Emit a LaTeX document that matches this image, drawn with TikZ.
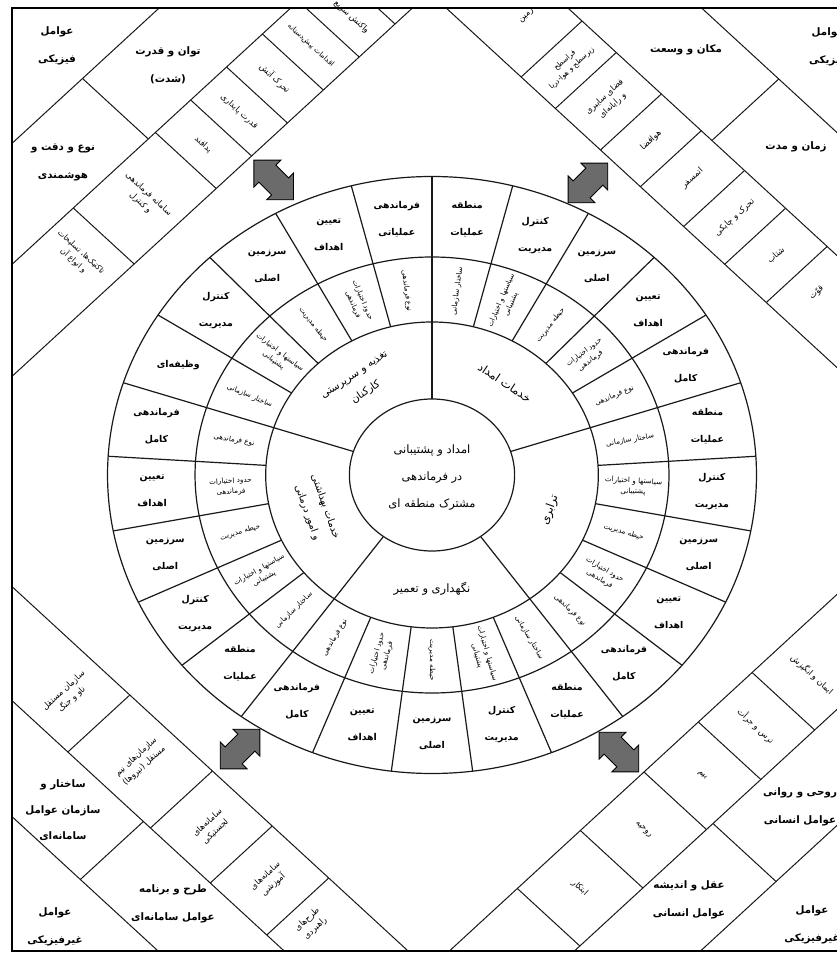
\documentclass[tikz,border=0pt]{standalone}
\usepackage{fontspec}
\TeXXeTstate=1
\newfontfamily\fafont[Script=Arabic]{DejaVu Sans}
\newcommand\fa[1]{{\fafont\beginR #1\endR}}
\newcommand\radrot[1]{\pgfmathsetmacro\rot{atan2(sin(#1),1.087*cos(#1))}\pgfmathsetmacro\rot{\rot>90?\rot-180:(\rot<-90?\rot+180:\rot)}}
\newcommand\tanrot[1]{\pgfmathsetmacro\rot{atan2(cos(#1),-1.087*sin(#1))}\pgfmathsetmacro\rot{\rot>90?\rot-180:(\rot<-90?\rot+180:\rot)}}
\newcommand\dblarrow[3]{%
  \coordinate (#1) at #2;
  \begin{scope}[shift={(#1)},x=1pt,y=1pt,rotate=#3]
    \filldraw[arr] (28,0) -- (9,19) -- (9,12) -- (-9,12) -- (-9,19) -- (-28,0) -- (-9,-19) -- (-9,-12) -- (9,-12) -- (9,-19) -- cycle;
  \end{scope}}
\begin{document}
\begin{tikzpicture}[x=1.087pt,y=1pt,
 ln/.style={draw=black!90,line width=1pt},
 rl/.style={draw=black!90,line width=1.2pt},
 big/.style={font=\fontsize{10.3}{28}\selectfont\bfseries,align=center,inner sep=0pt},
 olab/.style={font=\fontsize{9.4}{27}\selectfont\bfseries,align=center,inner sep=0pt},
 mlab/.style={font=\fontsize{7.2}{10.5}\selectfont,align=center,inner sep=0pt},
 slab/.style={font=\fontsize{8.3}{12}\selectfont,align=center,inner sep=0pt},
 seclab/.style={font=\fontsize{11.5}{24}\selectfont,align=center,inner sep=0pt},
 arr/.style={fill=black!58,draw=black,line width=0.9pt,line join=miter}]

\fill[white] (-397.43,-478) rectangle (371.66,475);
\useasboundingbox (-397.43,-478) rectangle (371.66,475);

% ---------- diagonal bands ----------
\begin{scope}
\clip (-386.4,-476) rectangle (380,467);
\begin{scope}[x={(-0.5435pt,0.5pt)},y={(0.5435pt,0.5pt)}] % top left
 \foreach \d in {485,597,718} \draw[ln] (\d,-\d) -- (\d,\d);
 \foreach \t in {-63,88,153,219,285,351,417} \draw[ln] (485,\t) -- (597,\t);
 \draw[ln] (597,75) -- (718,75);
\end{scope}
\begin{scope}[x={(0.5435pt,0.5pt)},y={(-0.5435pt,0.5pt)}] % top right
 \foreach \d in {480,592,715} \draw[ln] (\d,-\d) -- (\d,\d);
 \foreach \t in {316,253,170,96.6,17,-58.5,-135} \draw[ln] (480,\t) -- (592,\t);
 \draw[ln] (592,77) -- (715,77);
\end{scope}
\begin{scope}[x={(-0.5435pt,-0.5pt)},y={(0.5435pt,-0.5pt)}] % bottom left
 \foreach \d in {498,612,728} \draw[ln] (\d,-\d) -- (\d,\d);
 \foreach \t in {-58,94,204,308} \draw[ln] (498,\t) -- (612,\t);
 \draw[ln] (612,81) -- (728,81);
\end{scope}
\begin{scope}[x={(0.5435pt,-0.5pt)},y={(0.5435pt,0.5pt)}] % bottom right
 \foreach \d in {492,607,723} \draw[ln] (\d,-\d) -- (\d,\d);
 \foreach \t in {97,-2,-102,-219,-335} \draw[ln] (492,\t) -- (607,\t);
 \draw[ln] (607,-90) -- (723,-90);
\end{scope}
\end{scope}
\draw[line width=1.2pt] (-386.4,-476) rectangle (400,467);

% band texts, large cells
\node[big] (tlA) at (-242.9,410) {\fa{توان و قدرت}\\\fa{(شدت)}};
\node[big] (tlB) at (-339.5,313) {\fa{نوع و دقت و}\\\fa{هوشمندی}};
\node[big] (tlC) at (-345,429) {\fa{عوامل}\\\fa{فیزیکی}};
\node[big] (trA) at (233.7,425) {\fa{مکان و وسعت}};
\node[big] (trB) at (334.9,328) {\fa{زمان و مدت}};
\node[big] (trC) at (364.3,428) {\fa{عوامل}\\\fa{فیزیکی}};
\node[big,font=\fontsize{10.3}{26}\selectfont\bfseries] (blA) at (-339.5,-335) {\fa{ساختار و}\\\fa{سازمان عوامل}\\\fa{سامانه‌ای}};
\node[big] (blB) at (-238.3,-429) {\fa{طرح و برنامه}\\\fa{عوامل سامانه‌ای}};
\node[big] (blC) at (-346.8,-452) {\fa{عوامل}\\\fa{غیرفیزیکی}};
\node[big] (brA) at (338.5,-332) {\fa{روحی و روانی}\\\fa{عوامل انسانی}};
\node[big] (brB) at (236.4,-425) {\fa{عقل و اندیشه}\\\fa{عوامل انسانی}};
\node[big] (brC) at (349.6,-450) {\fa{عوامل}\\\fa{غیرفیزیکی}};

% band texts, small cells
\begin{scope}[x={(-0.5435pt,0.5pt)},y={(0.5435pt,0.5pt)}]
 \node[slab,rotate=-42.6,font=\fontsize{7.8}{11.5}\selectfont] (tl1) at (545,-108) {\fa{تاکتیک‌ها، تسلیحات}\\\fa{و انواع آن}};
 \node[slab,rotate=-42.6] (tl2) at (541,12) {\fa{سامانه فرماندهی}\\\fa{و کنترل}};
 \node[slab,rotate=-42.6] (tl3) at (541,120) {\fa{پدافند}};
 \node[slab,rotate=-42.6] (tl4) at (541,186) {\fa{قدرت پایداری}};
 \node[slab,rotate=-42.6] (tl5) at (541,252) {\fa{تحرک آتش}};
 \node[slab,rotate=-42.6,font=\fontsize{7.3}{10}\selectfont] (tl6) at (541,318) {\fa{اقدامات پیش‌دستانه}};
 \node[slab,rotate=-42.6] (tl7) at (532,384) {\fa{واکنش سریع}};
\end{scope}
\begin{scope}[x={(0.5435pt,0.5pt)},y={(-0.5435pt,0.5pt)}]
 \node[slab,rotate=42.6] (tr1) at (546,372) {\fa{زمین}};
 \node[slab,rotate=42.6,font=\fontsize{7.3}{10.5}\selectfont] (tr2) at (536,285) {\fa{فراسطح}\\\fa{زیرسطح و هوا-دریا}};
 \node[slab,rotate=42.6] (tr3) at (536,211) {\fa{فضای سایبری}\\\fa{و رایانه‌ای}};
 \node[slab,rotate=42.6] (tr4) at (536,133) {\fa{هوافضا}};
 \node[slab,rotate=42.6] (tr5) at (536,57) {\fa{اتمسفر}};
 \node[slab,rotate=42.6] (tr6) at (536,-21) {\fa{تحرک و چابکی}};
 \node[slab,rotate=42.6] (tr7) at (536,-97) {\fa{شتاب}};
 \node[slab,rotate=42.6] (tr8) at (536,-172) {\fa{قوّت}};
\end{scope}
\begin{scope}[x={(-0.5435pt,-0.5pt)},y={(0.5435pt,-0.5pt)}]
 \node[slab,rotate=42.6] (bl1) at (555,-115) {\fa{سازمان مستقل}\\\fa{ناو و جنگ}};
 \node[slab,rotate=42.6] (bl2) at (555,18) {\fa{سازمان‌های نیم}\\\fa{مستقل (نیروها)}};
 \node[slab,rotate=42.6] (bl3) at (555,149) {\fa{سامانه‌های}\\\fa{لجستیکی}};
 \node[slab,rotate=42.6] (bl4) at (555,256) {\fa{سامانه‌های}\\\fa{آموزشی}};
 \node[slab,rotate=42.6] (bl5) at (560,338) {\fa{طرح‌های}\\\fa{راهبردی}};
\end{scope}
\begin{scope}[x={(0.5435pt,-0.5pt)},y={(0.5435pt,0.5pt)}]
 \node[slab,rotate=-42.6] (br1) at (549,150) {\fa{ایمان و انگیزش}};
 \node[slab,rotate=-42.6] (br2) at (549,47) {\fa{ترس و جرأت}};
 \node[slab,rotate=-42.6] (br3) at (549,-52) {\fa{بیم}};
 \node[slab,rotate=-42.6] (br4) at (549,-160) {\fa{روحیه}};
 \node[slab,rotate=-42.6] (br5) at (549,-277) {\fa{ابتکار}};
\end{scope}

% ---------- rings ----------
\foreach \r in {76,153,218,298.5} \draw[rl] (0,0) circle (\r);
\foreach \k in {0,...,24} \draw[rl] ({90-14.4*\k}:153) -- ({90-14.4*\k}:298.5);
\foreach \a in {90,18,-54,-126,162} \draw[rl] (\a:76) -- (\a:153);

\node[seclab,font=\fontsize{11.5}{27}\selectfont] (core) at (0,-3) {\fa{امداد و پشتیبانی}\\\fa{در فرماندهی}\\\fa{مشترک منطقه ای}};

\tanrot{54}\node[seclab,rotate=\rot] (s1) at (54:114) {\fa{خدمات امداد}};
\tanrot{-18}\node[seclab,rotate=\rot] (s2) at (-18:114) {\fa{ترابری}};
\tanrot{-90}\node[seclab,rotate=\rot] (s3) at (-90:114) {\fa{نگهداری و تعمیر}};
\tanrot{-162}\node[seclab,rotate=\rot,font=\fontsize{10}{19}\selectfont] (s4) at (-162:112) {\fa{خدمات بهداشتی}\\\fa{و امور درمانی}};
\tanrot{126}\node[seclab,rotate=\rot,font=\fontsize{10.5}{21}\selectfont] (s5) at (126:112) {\fa{تغذیه و سرپرستی}\\\fa{کارکنان}};

% outer ring labels
\foreach \k/\a/\b in {0/منطقه/عملیات,1/کنترل/مدیریت,2/سرزمین/اصلی,3/تعیین/اهداف,4/فرماندهی/کامل,
 5/منطقه/عملیات,6/کنترل/مدیریت,7/سرزمین/اصلی,8/تعیین/اهداف,9/فرماندهی/کامل,
 10/منطقه/عملیات,11/کنترل/مدیریت,12/سرزمین/اصلی,13/تعیین/اهداف,14/فرماندهی/کامل,
 15/منطقه/عملیات,16/کنترل/مدیریت,17/سرزمین/اصلی,18/تعیین/اهداف,19/فرماندهی/کامل,
 21/کنترل/مدیریت,22/سرزمین/اصلی,23/تعیین/اهداف,24/فرماندهی/عملیاتی}
 {\node[olab] (o\k) at ({82.8-14.4*\k}:258) {\fa{\a}\\\fa{\b}};}
\node[olab] (o20) at ({82.8-14.4*20}:258) {\fa{وظیفه‌ای}};

% middle ring labels
\foreach \k in {0,...,24}{
 \pgfmathsetmacro\ang{82.8-14.4*\k}
 \radrot{\ang}
 \pgfmathtruncatemacro\m{mod(\k,5)}
 \node[mlab,rotate=\rot] (m\k) at (\ang:185.5) {\ifcase\m \fa{ساختار سازمانی}\or \fa{سیاستها و اختیارات}\\\fa{پشتیبانی}\or \fa{حیطه مدیریت}\or \fa{حدود اختیارات}\\\fa{فرماندهی}\or \fa{نوع فرماندهی}\fi};
}

% ---------- arrows ----------
\dblarrow{aTL}{(-145.6,295)}{-45}
\dblarrow{aTR}{(143.5,292)}{45}
\dblarrow{aBL}{(-176.6,-274)}{45}
\dblarrow{aBR}{(172,-277)}{-45}
\end{tikzpicture}
\end{document}
